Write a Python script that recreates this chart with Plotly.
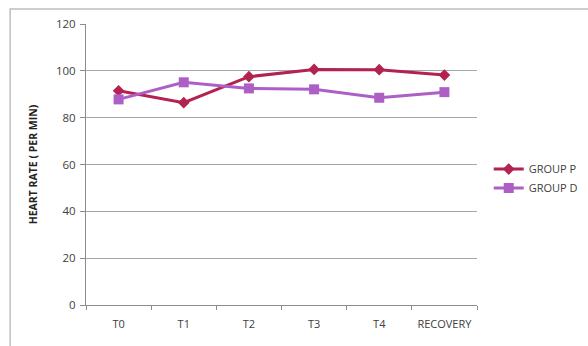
import plotly.graph_objects as go

categories = ["T0", "T1", "T2", "T3", "T4", "RECOVERY"]
group_p = [91.5, 86.4, 97.5, 100.6, 100.5, 98.2]
group_d = [87.8, 95.1, 92.5, 92.1, 88.5, 90.9]
y_ticks = [0, 20, 40, 60, 80, 100, 120]

font_family = "Open Sans, Liberation Sans, sans-serif"
text_color = "#404040"

fig = go.Figure()
fig.add_trace(go.Scatter(
    x=categories, y=group_p, name="GROUP P", mode="lines+markers",
    line=dict(color="#B3234F", width=3),
    marker=dict(symbol="diamond", size=9, color="#B3234F"),
))
fig.add_trace(go.Scatter(
    x=categories, y=group_d, name="GROUP D", mode="lines+markers",
    line=dict(color="#AE5FC6", width=3),
    marker=dict(symbol="square", size=10, color="#AE5FC6"),
))

fig.update_layout(
    width=588, height=346,
    margin=dict(l=86, r=111, t=24, b=41, autoexpand=False),
    paper_bgcolor="white", plot_bgcolor="white",
    font=dict(family=font_family, size=11, color=text_color),
    showlegend=True,
    legend=dict(x=1.03, y=0.45, xanchor="left", yanchor="middle",
                font=dict(size=11, color=text_color),
                bgcolor="rgba(0,0,0,0)", tracegroupgap=4),
    xaxis=dict(
        type="category", showgrid=False, showline=True, linecolor="#8c8c8c",
        linewidth=1, ticks="outside", tickson="boundaries", ticklen=4,
        tickcolor="#8c8c8c", tickfont=dict(size=11, color=text_color),
        tickangle=0, ticklabelstandoff=9, range=[-0.5, 5.5],
    ),
    yaxis=dict(
        range=[0, 120], tickvals=y_ticks, showgrid=True, gridcolor="#a6a6a6",
        gridwidth=1, showline=True, linecolor="#8c8c8c", linewidth=1,
        ticks="outside", ticklen=5, tickcolor="#8c8c8c", zeroline=False,
        tickfont=dict(size=11.5, color=text_color), ticklabelstandoff=2,
        title=dict(text="<b>HEART RATE ( PER MIN)</b>", font=dict(size=10.5, color="#222222"),
                   standoff=16),
    ),
    shapes=[dict(type="rect", xref="paper", yref="paper",
                 x0=-0.194, x1=1.6, y0=-0.3, y1=1.053,
                 line=dict(color="#bfbfbf", width=1.5), fillcolor="rgba(0,0,0,0)",
                 layer="below")],
)

fig.write_html("out.html")
